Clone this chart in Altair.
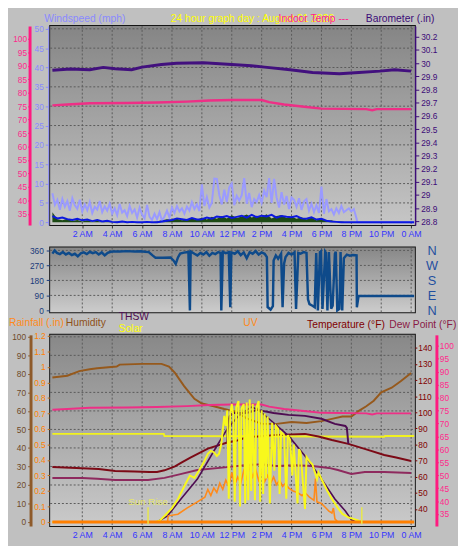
import json
import altair as alt
import pandas as pd

FONT = "Liberation Sans"
PAGE_BG = "#c0c0c0"
GRID = "#5a5a5a"

# ---------------- axis ticks / labels ----------------
TIME_TICKS = [2, 4, 6, 8, 10, 12, 14, 16, 18, 20, 22, 24]
TIME_LABELS = ["2 AM", "4 AM", "6 AM", "8 AM", "10 AM", "12 PM",
               "2 PM", "4 PM", "6 PM", "8 PM", "10 PM", "0 AM"]
WIND_TICKS = [0, 5, 10, 15, 20, 25, 30, 35, 40, 45, 50]
INTEMP_TICKS = [35, 40, 45, 50, 55, 60, 65, 70, 75, 80, 85, 90, 95, 100]
BARO_TICKS = [28.8, 28.9, 29.0, 29.1, 29.2, 29.3, 29.4, 29.5, 29.6, 29.7,
              29.8, 29.9, 30.0, 30.1, 30.2]
DIR_TICKS = [0, 90, 180, 270, 360]
DIR_LABELS = ["N", "E", "S", "W", "N"]
HUM_TICKS = [0, 10, 20, 30, 40, 50, 60, 70, 80, 90, 100]
RAIN_TICKS = [0.0, 0.1, 0.2, 0.3, 0.4, 0.5, 0.6, 0.7, 0.8, 0.9, 1.0, 1.1, 1.2]
TEMP_TICKS = [40, 50, 60, 70, 80, 90, 100, 110, 120, 130, 140]

# ---------------- top panel data ----------------
# wind gust (mph), 10-minute samples from 0:00 to 20:20
WIND_GUST = [
    7.5, 4.5, 5.8, 3.2, 6.0, 4.0,
    5.5, 3.0, 6.2, 4.4, 3.5, 5.8,
    2.8, 4.6, 3.1, 5.2, 2.4, 4.0,
    3.3, 5.5, 2.6, 4.1, 3.0, 4.8,
    2.2, 3.6, 1.8, 4.7, 2.5, 3.1,
    1.6, 4.2, 2.4, 3.3, 1.2, 3.8,
    2.0, 1.0, 4.5, 1.4, 0.6, 2.2,
    0.8, 2.6, 0.4, 1.5, 3.0, 1.2,
    3.8, 2.4, 4.2, 2.8, 3.6, 2.2,
    4.0, 3.0, 5.2, 3.4, 4.6, 2.9,
    9.8, 4.2, 6.5, 3.8, 5.0, 11.3,
    11.2, 7.0, 4.6, 8.4, 5.2, 9.0,
    10.0, 4.4, 6.8, 5.6, 7.0, 11.4,
    4.8, 7.6, 3.9, 6.0, 5.2, 7.0,
    5.0, 8.2, 6.5, 11.4, 5.0, 11.2,
    6.4, 3.8, 7.8, 4.6, 6.8, 3.4,
    6.4, 5.8, 4.0, 6.2, 3.2, 5.4,
    6.0, 3.0, 4.8, 2.6, 4.4, 2.4,
    9.2, 2.2, 6.0, 2.8, 3.4, 2.0,
    3.6, 2.4, 4.2, 2.6, 3.1, 3.6,
    2.8, 3.4, 1.2,
]
# average wind and wind speed (mph), 20-minute samples from 0:00 to 20:00
WIND_AVG = [
    1.6, 1.0, 1.2, 0.8, 0.6, 0.9,
    0.5, 0.7, 0.3, 0.6, 0.2, 0.4,
    0.1, 0.0, 0.2, 0.0, 0.1, 0.0,
    0.0, 0.1, 0.0, 0.0, 0.2, 0.4,
    0.6, 1.0, 0.8, 0.6, 1.1, 0.7,
    0.8, 1.2, 0.9, 1.5, 1.3, 1.6,
    1.1, 1.4, 1.7, 1.2, 1.9, 1.3,
    1.7, 1.5, 1.9, 1.2, 1.6, 1.4,
    1.3, 1.6, 1.0, 0.9, 1.3, 0.7,
    0.9, 0.4, 0.2, 0.1, 0.0, 0.0,
    0.0,
]
WIND_SPEED = [
    2.6, 0.8, 0.5, 0.9, 0.3, 0.6,
    0.2, 0.5, 0.1, 0.4, 0.0, 0.3,
    0.0, 0.2, 0.0, 0.0, 0.1, 0.0,
    0.0, 0.0, 0.0, 0.2, 0.5, 0.8,
    0.6, 0.9, 0.5, 0.8, 1.0, 0.6,
    1.2, 0.7, 1.4, 0.9, 1.6, 1.0,
    1.8, 1.1, 1.5, 2.0, 1.2, 1.7,
    1.4, 2.1, 1.0, 1.6, 1.9, 1.1,
    1.5, 0.9, 1.3, 0.7, 1.2, 0.5,
    0.8, 0.3, 0.5, 0.1, 0.2, 0.0,
    0.0,
]
WIND_END_H = [20.4, 24.2]
WIND_END_V = [0.0, 0.0]

BARO_H = [0, 1.2, 2.5, 3.4, 4.2, 5.3, 6.0, 7.3, 8.3, 10.1, 12.0, 13.3, 14.2,
          15.9, 17.4, 19.2, 20.5, 21.9, 22.9, 24.0]
BARO_V = [29.947, 29.956, 29.95, 29.968, 29.958, 29.95, 29.97, 29.99, 30.0,
          30.003, 29.99, 29.98, 29.97, 29.95, 29.93, 29.92, 29.93, 29.94,
          29.95, 29.94]

INTEMP_H = [0, 1, 2.5, 5, 7, 9, 10.5, 12, 14, 14.5, 15.5, 17, 18, 21, 21.4,
            21.7, 24]
INTEMP_V = [75.3, 75.6, 76.1, 76.2, 76.4, 76.7, 77.1, 77.3, 77.3, 76.5, 75.6,
            74.7, 74.1, 73.9, 73.5, 73.9, 73.9]

# ---------------- middle panel: wind direction ----------------
DIR_H = [0.0, 0.15, 0.3, 0.5, 0.7, 0.9, 1.1, 1.3, 1.5, 1.7, 1.9, 2.1, 2.3,
         2.5, 2.7, 2.9, 3.1, 3.3, 3.5, 3.7, 3.9, 4.05, 4.5, 5.0, 5.5, 5.9,
         6.2, 6.45, 6.7, 6.9, 7.4, 7.9, 8.1, 8.25, 8.4, 8.55, 8.8, 9.1, 9.2,
         9.25, 9.5, 9.7, 9.9, 10.1, 10.3, 10.5, 10.7, 10.9, 11.1, 11.25, 11.3,
         11.4, 11.6, 11.8, 11.9, 11.97, 12.2, 12.4, 12.6, 12.8, 13.0, 13.2,
         13.4, 13.6, 13.8, 14.0, 14.2, 14.35, 14.4, 14.6, 14.75, 14.8, 14.95,
         15.1, 15.3, 15.4, 15.5, 15.6, 15.8, 16.0, 16.2, 16.3, 16.45, 16.6,
         16.8, 17.0, 17.1, 17.2, 17.4, 17.55, 17.65, 17.76, 17.9, 17.97,
         18.07, 18.25, 18.3, 18.4, 18.5, 18.65, 18.75, 18.9, 18.96, 19.06,
         19.2, 19.28, 19.39, 19.5, 19.7, 19.9, 20.1, 20.35, 20.37, 20.48, 24.2]
DIR_V = [341, 360, 345, 338, 350, 336, 345, 332, 340, 325, 342, 348, 338,
         352, 344, 350, 336, 348, 330, 345, 352, 354, 354, 356, 354, 355,
         352, 350, 330, 316, 316, 318, 300, 279, 318, 341, 347, 351, 0,
         354, 340, 330, 345, 335, 350, 328, 345, 338, 350, 345, 0,
         352, 344, 350, 19, 348, 340, 355, 332, 348, 313, 350,
         340, 356, 335, 348, 340, 320, 20, 5, 25, 300, 330,
         310, 340, 19, 280, 320, 345, 335, 348, 9, 345, 340,
         350, 345, 66, 38, 28, 19, 345, 0, 350, 355,
         9, 352, 345, 0, 350, 10, 28, 340, 352, 0,
         9, 350, 0, 313, 335, 328, 332, 330, 19, 86, 86]

# ---------------- bottom panel data ----------------
HUM_H = [0, 1, 1.8, 2.5, 3, 4.3, 4.5, 6, 7.3, 7.8, 8.2, 8.8, 9.5, 10, 10.8,
         11.5, 12.3, 13, 14, 15, 16, 17, 18, 18.7, 19.4, 20, 20.5, 21, 21.5,
         22, 22.7, 23.3, 24]
HUM_V = [78, 79, 81.5, 82.5, 83, 84, 85, 85.4, 85.4, 84, 80.5, 73.5, 66.5,
         64, 62.5, 61, 59.5, 56, 53, 53, 54, 53.5, 54.5, 55.7, 57, 57, 60,
         62.5, 65.5, 70, 72.5, 76, 80.5]

INHUM_H = [0, 7.45, 7.5, 22.2, 22.25, 24.2]
INHUM_V = [47.6, 47.6, 46.5, 46.0, 46.5, 46.5]

TEMP_H = [0, 1.6, 3.1, 4.2, 5.5, 6.5, 7, 7.5, 8.2, 8.6, 9.2, 10.4, 11.7,
          12.3, 13, 14, 15, 16, 16.9, 17.8, 18.7, 19.8, 21, 22.2, 23, 24]
TEMP_V = [66, 65.5, 64.8, 63.6, 63.3, 63, 63, 64, 66.5, 68.6, 71.7, 77.5,
          81.3, 82.3, 84.5, 85.2, 86, 86.3, 86.6, 85, 82.8, 80.4, 77, 73.5,
          72, 69.8]

DEW_H = [0, 2, 3, 4.2, 6.4, 7.5, 8.5, 9.7, 11.7, 13, 14, 15, 16.2, 17.4,
         18.5, 19.1, 20, 20.9, 22.2, 24]
DEW_V = [59.3, 59.3, 58.8, 58, 58, 59.3, 61.5, 64.2, 66, 67.3, 67.8, 66.7,
         67.2, 66.7, 65.5, 64.2, 61.7, 63, 63, 62.4]

THSW_H = [11.7, 11.75, 11.85, 12.1, 13, 13.7, 14.8, 15.8, 16.9, 18, 18.9,
          19.6, 19.7, 19.8]
THSW_V = [81.3, 93.4, 97.5, 99.6, 99.6, 101.5, 99.6, 98.4, 97.8, 96, 92.8,
          91.5, 90.3, 80.4]

CLEAR_H = [7.0, 7.7, 8.6, 9.7, 11.0, 11.7, 12.5, 13.3, 13.7, 14.8, 15.8,
           16.9, 18.0, 18.9, 19.6, 20.0, 20.3]
CLEAR_W = [0, 40, 148, 277, 490, 600, 690, 740, 729, 640, 555, 426, 277,
           148, 71, 15, 0]

SOLAR_H = [0, 6.9, 7.2, 7.5, 8.0, 8.4, 8.9, 9.2, 9.5, 9.8, 10.1, 10.4, 10.6,
           10.8, 11.0, 11.15, 11.3, 11.5, 11.6, 11.7, 11.8, 11.9, 12.0, 12.1,
           12.2, 12.3, 12.45, 12.55, 12.65, 12.8, 12.9, 13.0, 13.1, 13.2,
           13.3, 13.4, 13.55, 13.65, 13.8, 13.9, 14.0, 14.1, 14.2, 14.3, 14.4,
           14.55, 14.7, 14.85, 14.95, 15.1, 15.2, 15.3, 15.5, 15.65, 15.75,
           15.9, 16.05, 16.15, 16.4, 16.5, 16.6, 16.9, 17.0, 17.2, 17.4, 17.7,
           17.8, 18.0, 18.4, 18.7, 19.1, 19.4, 19.8, 20.2, 20.5, 20.7, 24.2]
SOLAR_W = [0, 0, 10, 39, 90, 148, 245, 300, 284, 330, 380, 440, 458,
           450, 426, 440, 503, 684, 620, 720, 150, 700, 760, 690,
           130, 740, 780, 100, 730, 760, 120, 770, 140, 790,
           200, 760, 140, 740, 780, 130, 720, 180, 700, 280, 680,
           120, 640, 330, 620, 600, 180, 580, 560, 150, 560,
           530, 300, 500, 120, 470, 450, 84, 420, 390, 370, 277,
           320, 277, 200, 148, 90, 52, 30, 19, 8, 0, 0]

UV_H = [0, 7.7, 7.75, 8.4, 9.0, 9.7, 10.2, 10.4, 10.6, 10.8, 11.0, 11.2,
        11.4, 11.6, 11.8, 12.0, 12.2, 12.4, 12.6, 12.8, 13.0, 13.2, 13.4,
        13.6, 13.8, 14.0, 14.2, 14.4, 14.6, 14.8, 15.0, 15.2, 15.4, 15.6,
        15.8, 16.1, 16.4, 16.7, 16.9, 17.2, 17.5, 17.6, 17.7, 18.0, 18.3,
        18.5, 18.7, 18.8, 18.9, 19.1, 24.2]
UV_V = [0, 0, 0.4, 0.5, 0.9, 1.3, 1.6, 2.1, 1.7, 2.2, 1.9, 2.5,
        2.1, 2.7, 2.3, 3.2, 2.4, 2.9, 2.5, 3.3, 2.8, 3.6, 2.9,
        3.4, 2.7, 3.2, 2.6, 3.0, 2.5, 2.9, 2.4, 2.7, 2.3, 2.5,
        2.2, 2.0, 1.9, 1.7, 1.9, 1.6, 1.4, 2.8, 1.3, 1.2, 0.9,
        0.7, 0.58, 0.9, 0.2, 0, 0]

RAIN_H = [0, 24.2]
RAIN_V = [0.0, 0.0]

SUN_EVENTS_H = [6.4, 20.7]
SUN_MARK_LO = [-15, -15]
SUN_MARK_HI = [95, 95]
SUNRISE_LABEL = ["Sun Rise"]
SUNRISE_LABEL_H = [6.4]
SUNRISE_LABEL_W = [128]

# ---------------- layout ----------------
W = 372
H_TOP, H_MID, H_BOT = 203, 66, 195
SPACING = 23
HEAD_Y = -12

XS = alt.Scale(domain=[-0.15, 24.25], nice=False, zero=False)


def lin(lo, hi):
    return alt.Scale(domain=[lo, hi], nice=False, zero=False)


S_WIND = lin(-0.72, 50.72)
S_INT_TOP = lin(30.83, 104.79)
S_BARO = lin(28.772, 30.282)
S_DIR = lin(-11.4, 377.1)
S_HUM = lin(-2.16, 101.08)
S_RAIN = lin(-0.0258, 1.2065)
S_UV = lin(-0.258, 12.065)
S_SOLAR = lin(-25.8, 1206.5)
S_TEMP = lin(29.44, 148.07)
S_INT_BOT = lin(30.36, 104.25)

LBL = 8.5
time_expr = json.dumps(TIME_LABELS) + "[round(datum.value / 2) - 1]"
XAX = alt.Axis(values=TIME_TICKS, labelExpr=time_expr, labelColor="#3535ff",
               labelFont=FONT, labelFontSize=9, tickSize=3, tickColor="#333333",
               domain=False, grid=False, labelPadding=2, labelOverlap=False,
               labelFlush=False, title=None)

ONE = pd.DataFrame({"k": [0]})


def xenc(axis):
    return alt.X("h:Q", scale=XS, axis=axis, title=None)


def background(h, top, bottom):
    grad = alt.LinearGradient(
        gradient="linear",
        stops=[alt.GradientStop(color=top, offset=0),
               alt.GradientStop(color=bottom, offset=1)],
        x1=0, x2=0, y1=0, y2=1)
    return alt.Chart(ONE).mark_rect(color=grad).encode(
        x=alt.value(0), x2=alt.value(W), y=alt.value(0), y2=alt.value(h))


def vgrid(h, axis):
    d = pd.DataFrame({"h": TIME_TICKS})
    return alt.Chart(d).mark_rule(color=GRID, strokeDash=[2, 2], strokeWidth=1).encode(
        x=xenc(axis), y=alt.value(0), y2=alt.value(h))


def hgrid(values, scale, yaxis=None):
    d = pd.DataFrame({"v": values})
    return alt.Chart(d).mark_rule(color=GRID, strokeDash=[2, 2], strokeWidth=1).encode(
        x=alt.value(0), x2=alt.value(W),
        y=alt.Y("v:Q", scale=scale, axis=yaxis, title=None))


def series(h, v, color, width, scale, xaxis, yaxis=None):
    d = pd.DataFrame({"h": h, "v": v})
    return alt.Chart(d).mark_line(color=color, strokeWidth=width).encode(
        x=xenc(xaxis), y=alt.Y("v:Q", scale=scale, axis=yaxis, title=None))


def label(text, x, y, color, size=10.5, align="left", baseline="middle"):
    return alt.Chart(ONE).mark_text(
        text=text, align=align, baseline=baseline, color=color,
        fontSize=size, font=FONT).encode(x=alt.value(x), y=alt.value(y))


# ---------------- top panel ----------------
AX_WIND = alt.Axis(orient="left", values=WIND_TICKS, labelColor="#8a8aff",
                   domainColor="#8a8aff", tickColor="#8a8aff", tickSize=3,
                   labelPadding=2, offset=2, grid=False, labelFontSize=LBL,
                   labelFont=FONT, title=None)
AX_INT_TOP = alt.Axis(orient="left", values=INTEMP_TICKS, labelColor="#ff2a8c",
                      domainColor="#ff1a80", domainWidth=3, tickColor="#ff1a80",
                      tickSize=2, labelPadding=1, offset=21, grid=False,
                      labelFontSize=LBL, labelFont=FONT, title=None)
AX_BARO = alt.Axis(orient="right", values=BARO_TICKS, format=".1~f",
                   labelColor="#3c0c78", domainColor="#3c0c78", domainWidth=2,
                   tickColor="#3c0c78", tickSize=4, labelPadding=2, grid=False,
                   labelFontSize=LBL, labelFont=FONT, title=None)

gust_h = [i / 6 for i in range(len(WIND_GUST))] + WIND_END_H
gust_v = WIND_GUST + WIND_END_V
avg_h = [i / 3 for i in range(len(WIND_AVG))] + WIND_END_H
avg_v = WIND_AVG + WIND_END_V
spd_h = [i / 3 for i in range(len(WIND_SPEED))] + WIND_END_H
spd_v = WIND_SPEED + WIND_END_V

speed_area = alt.Chart(pd.DataFrame({"h": spd_h, "v": spd_v})).mark_area(
    color="#1d4a16", opacity=1).encode(
    x=xenc(XAX), y=alt.Y("v:Q", scale=S_WIND, axis=None, title=None),
    y2=alt.datum(0))

top = alt.layer(
    background(H_TOP, "#858585", "#c6c6c6"),
    vgrid(H_TOP, XAX),
    hgrid(WIND_TICKS[1:], S_WIND),
    speed_area,
    series(gust_h, gust_v, "#9a9aff", 2, S_WIND, XAX, AX_WIND),
    series(avg_h, avg_v, "#0c18e0", 2, S_WIND, XAX),
    series(INTEMP_H, INTEMP_V, "#ee2f86", 2.5, S_INT_TOP, XAX, AX_INT_TOP),
    series(BARO_H, BARO_V, "#42107e", 3, S_BARO, XAX, AX_BARO),
    label("Windspeed (mph)", -6, HEAD_Y, "#8a8aff", baseline="top"),
    label("24 hour graph day : August 01 2026", 123, HEAD_Y, "#ffff00", baseline="top"),
    label("Indoor Temp ---", 233, HEAD_Y, "#ff1f8f", baseline="top"),
    label("Barometer (.in)", 322, HEAD_Y, "#3c0c78", baseline="top"),
).resolve_scale(y="independent").properties(width=W, height=H_TOP)

# ---------------- middle panel ----------------
AX_DIR = alt.Axis(orient="left", values=DIR_TICKS, labelColor="#1a3a7a",
                  tickColor="#1a3a7a", tickSize=4, labelPadding=3, domain=False,
                  grid=False, labelFontSize=LBL, labelFont=FONT, title=None)
AX_COMPASS = alt.Axis(orient="right", values=DIR_TICKS,
                      labelExpr=json.dumps(DIR_LABELS) + "[round(datum.value / 90)]",
                      labelColor="#1f4f9f", labelFontSize=13, labelFont=FONT,
                      labelAlign="center", labelPadding=17, ticks=False,
                      domain=False, grid=False, title=None)

mid = alt.layer(
    background(H_MID, "#878787", "#cccccc"),
    vgrid(H_MID, None),
    hgrid(DIR_TICKS[1:], S_DIR, AX_COMPASS),
    series(DIR_H, DIR_V, "#0e4a8a", 2.5, S_DIR, None, AX_DIR),
).resolve_scale(y="independent").properties(width=W, height=H_MID)

# ---------------- bottom panel ----------------
AX_HUM = alt.Axis(orient="left", values=HUM_TICKS, labelColor="#6e4a28",
                  domainColor="#8e5a2a", domainWidth=3, tickColor="#8e5a2a",
                  tickSize=3, labelPadding=2, offset=20, grid=False,
                  labelFontSize=LBL, labelFont=FONT, title=None)
AX_RAIN = alt.Axis(orient="left", values=RAIN_TICKS, format=".1~f",
                   labelColor="#ff8000", tickColor="#b86818", tickSize=3,
                   labelPadding=2, domain=False, grid=False,
                   labelFontSize=LBL, labelFont=FONT, title=None)
AX_TEMP = alt.Axis(orient="right", values=TEMP_TICKS, labelColor="#800000",
                   tickColor="#800000", tickSize=2, labelPadding=1, domain=False,
                   grid=False, labelFontSize=LBL, labelFont=FONT, title=None)
AX_INT_BOT = alt.Axis(orient="right", values=INTEMP_TICKS, labelColor="#ff2a8c",
                      domainColor="#ff1a80", domainWidth=3, tickColor="#ff1a80",
                      tickSize=2, labelPadding=1, offset=22, grid=False,
                      labelFontSize=LBL, labelFont=FONT, title=None)

sun_marks = alt.Chart(pd.DataFrame({"h": SUN_EVENTS_H, "lo": SUN_MARK_LO,
                                    "hi": SUN_MARK_HI})).mark_rule(
    color="#e8e84a", strokeWidth=1.5).encode(
    x=xenc(XAX), y=alt.Y("lo:Q", scale=S_SOLAR, axis=None, title=None),
    y2="hi:Q")
sun_text = alt.Chart(pd.DataFrame({"h": SUNRISE_LABEL_H, "v": SUNRISE_LABEL_W,
                                   "t": SUNRISE_LABEL})).mark_text(
    color="#e6e66a", fontSize=10, font=FONT, baseline="middle").encode(
    x=xenc(XAX), y=alt.Y("v:Q", scale=S_SOLAR, axis=None, title=None),
    text="t:N")

bot = alt.layer(
    background(H_BOT, "#888888", "#cacaca"),
    vgrid(H_BOT, XAX),
    hgrid(HUM_TICKS[1:], S_HUM, AX_HUM),
    series(INHUM_H, INHUM_V, "#f2f21e", 2, S_HUM, XAX),
    series(HUM_H, HUM_V, "#96591c", 2, S_HUM, XAX),
    series(INTEMP_H, INTEMP_V, "#ee2f86", 2, S_INT_BOT, XAX, AX_INT_BOT),
    series(DEW_H, DEW_V, "#8e2a5e", 2, S_TEMP, XAX),
    series(TEMP_H, TEMP_V, "#7c0a16", 2, S_TEMP, XAX, AX_TEMP),
    series(THSW_H, THSW_V, "#4e0c52", 2, S_TEMP, XAX),
    series(CLEAR_H, CLEAR_W, "#4e0c52", 1.6, S_SOLAR, XAX),
    series(UV_H, UV_V, "#ff8a1a", 1.6, S_UV, XAX),
    series(SOLAR_H, SOLAR_W, "#f8f81c", 2, S_SOLAR, XAX),
    series(RAIN_H, RAIN_V, "#ff7f00", 3, S_RAIN, XAX, AX_RAIN),
    sun_marks,
    sun_text,
    label("Rainfall (.in)", -42, -12, "#ff8a1a"),
    label("Humidity", 16, -12, "#8e5018"),
    label("THSW", 70, -18, "#4e0c52"),
    label("Solar", 70, -6, "#ffff00"),
    label("UV", 197, -12, "#ff8a1a"),
    label("Temperature (°F)", 262, -10, "#800000"),
    label("Dew Point (°F)", 346, -10, "#8a1a46"),
).resolve_scale(y="independent").properties(width=W, height=H_BOT)

chart = alt.vconcat(top, mid, bot, spacing=SPACING, bounds="flush").properties(
    background=PAGE_BG, padding=0
).configure_view(stroke="#151515", strokeWidth=2)

chart.save("out.html", embed_options={"renderer": "svg", "actions": False})
